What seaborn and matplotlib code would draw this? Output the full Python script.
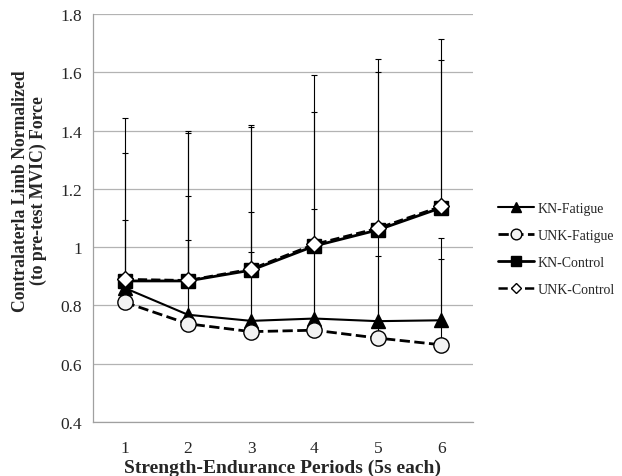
import numpy as np
import pandas as pd
import matplotlib
matplotlib.use("Agg")
import matplotlib.pyplot as plt
import seaborn as sns

# data
periods = [1, 2, 3, 4, 5, 6]
series_names = ["KN-Fatigue", "UNK-Fatigue", "KN-Control", "UNK-Control"]

kn_fatigue = [0.86, 0.768, 0.747, 0.755, 0.746, 0.749]
unk_fatigue = [0.811, 0.737, 0.710, 0.715, 0.688, 0.665]
kn_control = [0.884, 0.884, 0.921, 1.004, 1.059, 1.135]
unk_control = [0.890, 0.886, 0.925, 1.010, 1.065, 1.140]

# top of each error bar (mean + SD)
kn_fatigue_top = [1.093, 1.175, 1.122, 1.131, 0.971, 1.030]
unk_fatigue_top = [0.875, 1.026, 0.983, 1.000, 1.060, 0.960]
kn_control_top = [1.322, 1.392, 1.413, 1.463, 1.600, 1.642]
unk_control_top = [1.443, 1.397, 1.420, 1.589, 1.647, 1.713]

sns.set_style("white")
plt.rcParams["font.family"] = ["Liberation Serif", "DejaVu Serif"]

fig = plt.figure(figsize=(6.22, 4.77), dpi=100)
ax = fig.add_axes([0.1495, 0.1132, 0.6105, 0.8554])

styles = {
    "KN-Fatigue": dict(marker="^", linestyle="-", lw=1.5, mfc="black", ms=10),
    "UNK-Fatigue": dict(marker="o", linestyle="--", lw=2.0, mfc="#f2f2f2", ms=11),
    "KN-Control": dict(marker="s", linestyle="-", lw=2.0, mfc="black", ms=10),
    "UNK-Control": dict(marker="D", linestyle="--", lw=1.8, mfc="white", ms=8),
}
means = {"KN-Fatigue": kn_fatigue, "UNK-Fatigue": unk_fatigue,
         "KN-Control": kn_control, "UNK-Control": unk_control}
tops = {"KN-Fatigue": kn_fatigue_top, "UNK-Fatigue": unk_fatigue_top,
        "KN-Control": kn_control_top, "UNK-Control": unk_control_top}

# error bars first (upper only), so markers sit on top
for name in series_names:
    m = np.array(means[name])
    up = np.array(tops[name]) - m
    ax.errorbar(periods, m, yerr=[np.zeros_like(up), up], fmt="none",
                ecolor="black", elinewidth=0.8, capsize=2.5, capthick=0.8, zorder=2)

handles = []
for i, name in enumerate(series_names):
    df = pd.DataFrame({"period": periods, "value": means[name]})
    st = styles[name]
    sns.lineplot(data=df, x="period", y="value", ax=ax, color="black",
                 marker=st["marker"], linestyle=st["linestyle"], linewidth=st["lw"],
                 markersize=st["ms"], markerfacecolor=st["mfc"],
                 markeredgecolor="black", markeredgewidth=1.0, zorder=3 + i)
    handles.append(ax.lines[-1])

ax.set_xlim(0.5, 6.5)
ax.set_ylim(0.4, 1.8)
ax.set_yticks(np.arange(0.4, 1.81, 0.2))
ax.set_yticklabels(["0.4", "0.6", "0.8", "1", "1.2", "1.4", "1.6", "1.8"])
ax.set_xticks(periods)
ax.set_xticks(np.arange(0.5, 6.6, 1), minor=True)
ax.tick_params(axis="x", which="major", length=0, labelsize=12.5, pad=13)
ax.tick_params(axis="x", which="minor", length=4, color="#a0a0a0", direction="out")
ax.tick_params(axis="y", length=4, color="#a0a0a0", labelsize=12.5, pad=4)
ax.grid(axis="y", color="#b3b3b3", linewidth=0.9)
ax.set_axisbelow(True)
for s in ["top", "right"]:
    ax.spines[s].set_visible(False)
for s in ["left", "bottom"]:
    ax.spines[s].set_color("#a0a0a0")
    ax.spines[s].set_linewidth(0.9)

ax.set_xlabel("Strength-Endurance Periods (5s each)", fontsize=14, fontweight="bold")
ax.xaxis.set_label_coords(0.5, -0.09)
ax.set_ylabel("Contralaterla Limb Normalized\n(to pre-test MVIC) Force", fontsize=12.7,
              fontweight="bold", linespacing=1.05)
ax.yaxis.set_label_coords(-0.121, 0.569)

fig.legend(handles, series_names, loc="center left", bbox_to_anchor=(0.78, 0.476),
           frameon=False, fontsize=10, handlelength=2.6, labelspacing=1.0,
           handletextpad=0.3, markerscale=0.7)

fig.savefig("out.png", dpi=100)
